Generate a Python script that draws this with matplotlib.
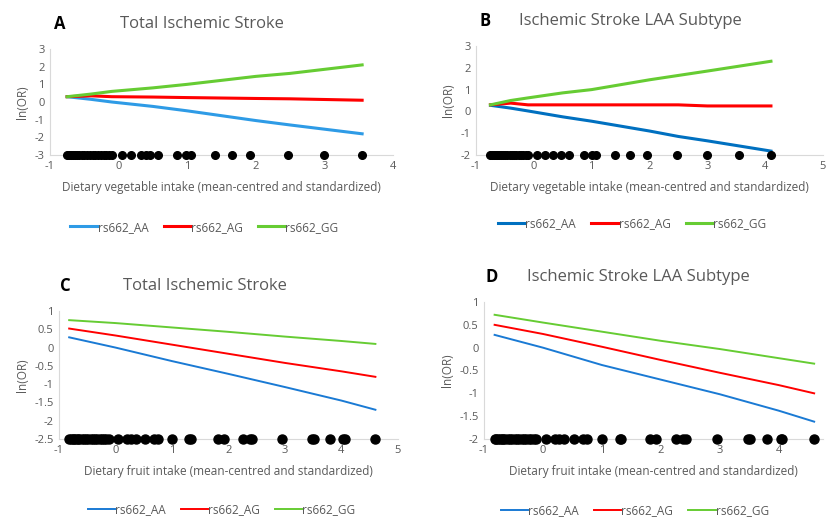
import matplotlib.pyplot as plt

plt.rcParams['font.family'] = ['Open Sans', 'DejaVu Sans']
plt.rcParams['axes.unicode_minus'] = False

# datos de los puntos (valores observados de la ingesta) sobre el eje x
veg_dots_a = [-0.75, -0.72, -0.69, -0.66, -0.63, -0.6, -0.57, -0.54, -0.5, -0.46, -0.42, -0.38,
              -0.34, -0.3, -0.26, -0.22, -0.18, -0.14, -0.1, 0.05, 0.18, 0.32, 0.4, 0.46,
              0.58, 0.85, 0.98, 1.05, 1.4, 1.66, 1.92, 2.47, 3.0, 3.55]
veg_dots_b = [-0.75, -0.72, -0.69, -0.66, -0.63, -0.6, -0.57, -0.54, -0.5, -0.46, -0.42, -0.38,
              -0.34, -0.3, -0.26, -0.22, -0.18, -0.14, -0.1, 0.05, 0.2, 0.33, 0.47, 0.6,
              0.87, 1.0, 1.07, 1.4, 1.67, 1.95, 2.47, 3.0, 3.55, 4.1]
fruit_dots = [-0.82, -0.79, -0.76, -0.73, -0.7, -0.67, -0.64, -0.6, -0.56, -0.52, -0.48, -0.44,
              -0.4, -0.36, -0.32, -0.28, -0.24, -0.2, -0.16, -0.12, 0.05, 0.2, 0.28, 0.36,
              0.53, 0.68, 0.75, 1.0, 1.3, 1.33, 1.82, 1.92, 2.25, 2.38, 2.42, 2.95, 3.48,
              3.52, 3.8, 4.03, 4.06, 4.6]

# lineas del modelo: x y ln(OR) por genotipo
veg_x_a = [-0.75, -0.4, -0.1, 0.5, 1.0, 2.0, 2.5, 3.55]
a_aa = [0.3, 0.15, 0.0, -0.25, -0.5, -1.05, -1.3, -1.8]
a_ag = [0.3, 0.35, 0.3, 0.28, 0.25, 0.2, 0.18, 0.1]
a_gg = [0.3, 0.45, 0.6, 0.8, 1.0, 1.45, 1.62, 2.1]

veg_x_b = [-0.75, -0.4, -0.1, 0.5, 1.0, 2.0, 2.5, 3.0, 4.1]
b_aa = [0.28, 0.15, 0.02, -0.25, -0.45, -0.9, -1.15, -1.35, -1.82]
b_ag = [0.3, 0.38, 0.3, 0.3, 0.3, 0.3, 0.3, 0.25, 0.25]
b_gg = [0.3, 0.5, 0.62, 0.85, 1.0, 1.45, 1.65, 1.85, 2.3]

fruit_x = [-0.82, 0.0, 1.0, 2.0, 3.0, 4.0, 4.6]
c_aa = [0.28, 0.0, -0.37, -0.72, -1.08, -1.45, -1.7]
c_ag = [0.52, 0.33, 0.08, -0.17, -0.42, -0.65, -0.8]
c_gg = [0.75, 0.67, 0.55, 0.43, 0.3, 0.18, 0.1]
d_aa = [0.28, 0.0, -0.38, -0.7, -1.02, -1.38, -1.62]
d_ag = [0.5, 0.3, 0.02, -0.27, -0.55, -0.82, -1.0]
d_gg = [0.72, 0.55, 0.35, 0.15, -0.03, -0.23, -0.35]

labels = ['rs662_AA', 'rs662_AG', 'rs662_GG']
grey = '#595959'
W, H = 831, 517


def panel(box, letter, title, xlim, ylim, yticks, xticks, xlabel, xs, lines, colors, lw, dots,
          dot_y, ms, leg_x, leg_y, title_x, letter_x):
    l, r, t, b = box
    ax = fig.add_axes([l / W, 1 - b / H, (r - l) / W, (b - t) / H])
    for ys, c, lab in zip(lines, colors, labels):
        ax.plot(xs, ys, color=c, lw=lw, label=lab)
    ax.plot(dots, [dot_y] * len(dots), 'o', color='black', ms=ms, clip_on=False, zorder=5)
    ax.set_xlim(xlim)
    ax.set_ylim(ylim)
    ax.set_yticks(yticks)
    ax.set_yticklabels([('%g' % v) for v in yticks])
    ax.set_xticks(xticks)
    for s in ['top', 'right']:
        ax.spines[s].set_visible(False)
    for s in ['left', 'bottom']:
        ax.spines[s].set_color('#d9d9d9')
    ax.tick_params(length=0, labelsize=8, colors=grey, pad=4)
    ax.set_xlabel(xlabel, fontsize=8.5, color=grey, labelpad=7)
    ax.set_ylabel('ln(OR)', fontsize=8.5, color=grey, labelpad=4)
    fig.text(title_x / W, 1 - (t - 25) / H, title, fontsize=12, color=grey, ha='center', va='center')
    fig.text(letter_x / W, 1 - (t - 25) / H, letter, fontsize=12, fontweight='bold', color='black',
             ha='center', va='center')
    ax.legend(loc='center', bbox_to_anchor=(leg_x, leg_y), ncol=3, frameon=False, fontsize=8.5,
              handlelength=2.3, handletextpad=0.0, columnspacing=1.3, labelcolor=grey)
    return ax


fig = plt.figure(figsize=(8.31, 5.17), dpi=100)

panel((50, 393, 49, 155), 'A', 'Total Ischemic Stroke', (-1, 4), (-3, 3), range(-3, 4),
      range(-1, 5), 'Dietary vegetable intake (mean-centred and standardized)', veg_x_a,
      [a_aa, a_ag, a_gg], ['#2e9be6', '#ff0000', '#66cc33'], 2.2, veg_dots_a, -3, 5.5,
      0.45, -0.68, 202, 60)
panel((476, 823, 46, 155), 'B', 'Ischemic Stroke LAA Subtype', (-1, 5), (-2, 3), range(-2, 4),
      range(-1, 6), 'Dietary vegetable intake (mean-centred and standardized)', veg_x_b,
      [b_aa, b_ag, b_gg], ['#0070c0', '#ff0000', '#66cc33'], 2.2, veg_dots_b, -2, 5.5,
      0.45, -0.63, 630, 485)
panel((59, 398, 311, 439), 'C', 'Total Ischemic Stroke', (-1, 5), (-2.5, 1),
      [-2.5, -2, -1.5, -1, -0.5, 0, 0.5, 1], range(-1, 6),
      'Dietary fruit intake (mean-centred and standardized)', fruit_x,
      [c_aa, c_ag, c_gg], ['#1a7ad4', '#ff0000', '#66cc33'], 1.4, fruit_dots, -2.5, 6.5,
      0.48, -0.55, 205, 65)
panel((484, 823, 302, 439), 'D', 'Ischemic Stroke LAA Subtype', (-1, 4.75), (-2, 1),
      [-2, -1.5, -1, -0.5, 0, 0.5, 1], range(-1, 5),
      'Dietary fruit intake (mean-centred and standardized)', fruit_x,
      [d_aa, d_ag, d_gg], ['#1a7ad4', '#ff0000', '#66cc33'], 1.4, fruit_dots, -2, 6.5,
      0.445, -0.52, 638, 492)

fig.savefig('out.png', dpi=100)
